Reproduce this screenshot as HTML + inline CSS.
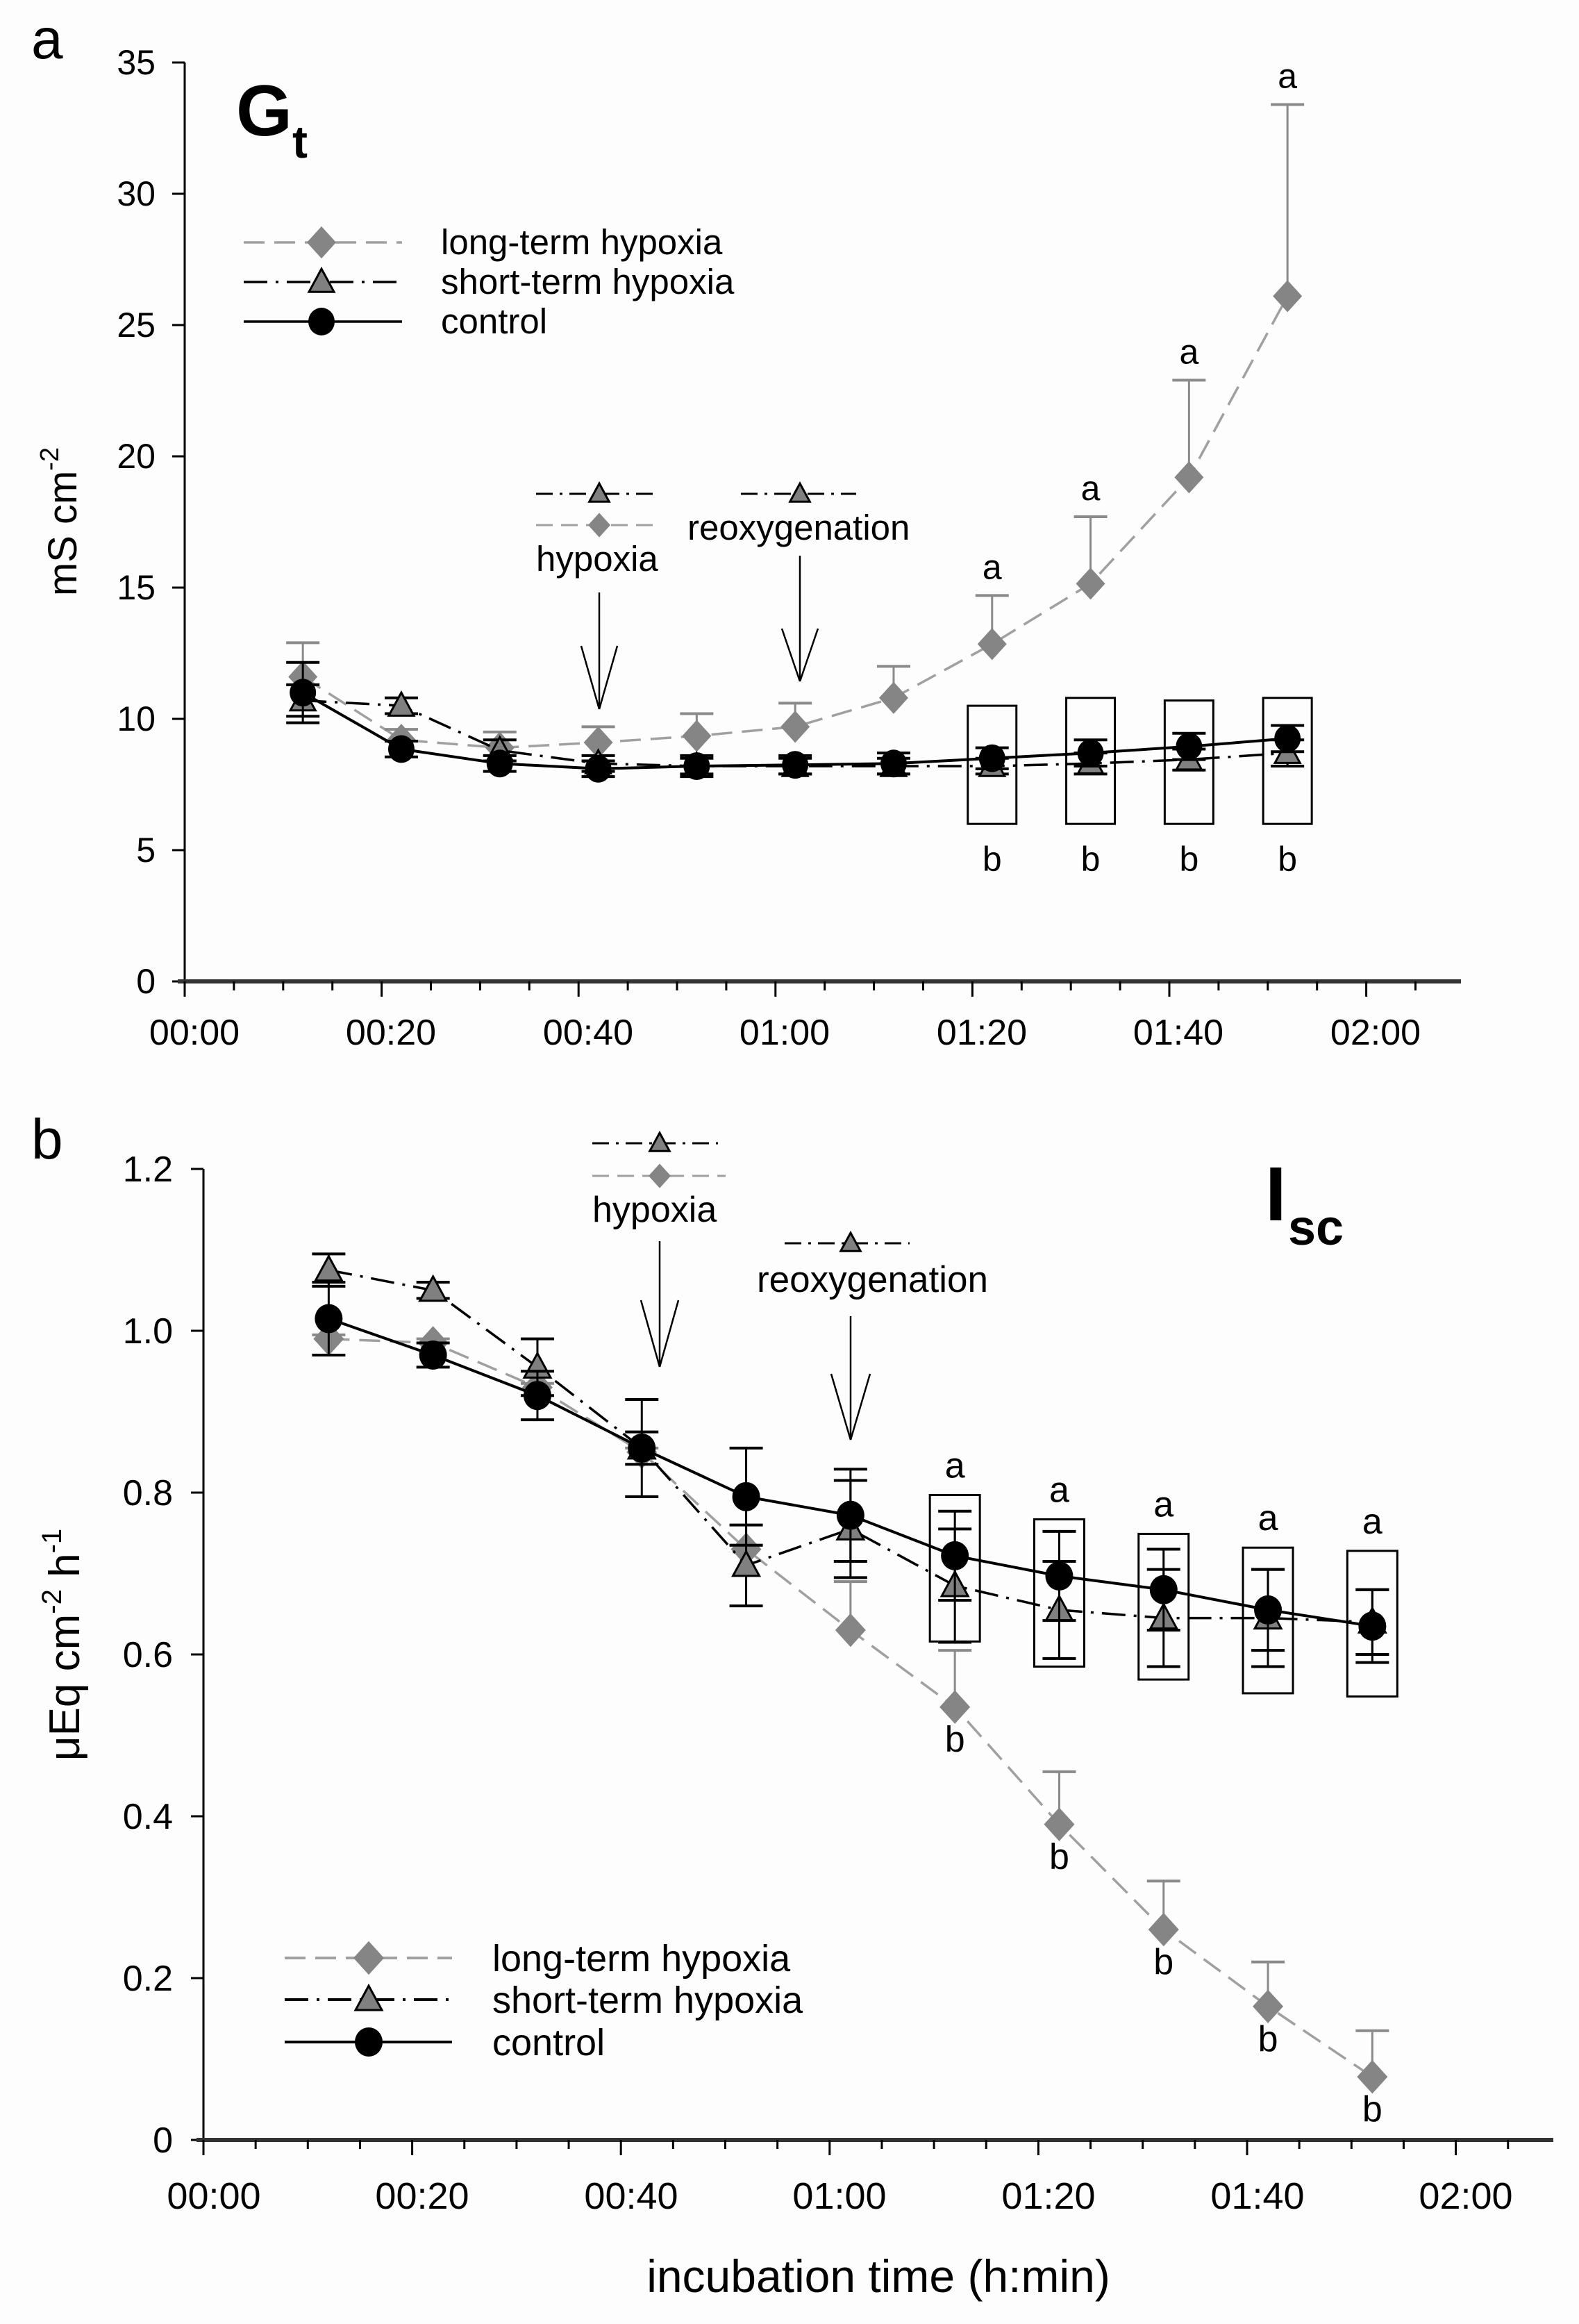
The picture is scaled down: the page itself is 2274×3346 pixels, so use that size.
<!DOCTYPE html>
<html><head><meta charset="utf-8"><style>
html,body{margin:0;padding:0;background:#fdfdfd;}
svg{display:block;font-family:"Liberation Sans",Arial,sans-serif;}
</style></head><body>
<svg id="s" width="2274" height="3346" viewBox="0 0 2274 3346" xmlns="http://www.w3.org/2000/svg">
<rect width="2274" height="3346" fill="#fdfdfd"/>
<!-- Panel a static text -->
<text x="45" y="84" font-size="82">a</text>
<text x="340" y="195" font-size="104" font-weight="bold">G</text>
<text x="421" y="227" font-size="66" font-weight="bold">t</text>
<text transform="translate(110,751) rotate(-90)" font-size="58" text-anchor="middle">mS cm<tspan font-size="38" dy="-26">-2</tspan></text>
<g font-size="50" text-anchor="end">
<text x="224" y="107">35</text><text x="224" y="296">30</text><text x="224" y="485">25</text>
<text x="224" y="674">20</text><text x="224" y="863">15</text><text x="224" y="1052">10</text>
<text x="224" y="1241">5</text><text x="224" y="1430">0</text>
</g>
<g font-size="52" text-anchor="middle">
<text x="280" y="1504">00:00</text><text x="563" y="1504">00:20</text><text x="847" y="1504">00:40</text>
<text x="1130" y="1504">01:00</text><text x="1414" y="1504">01:20</text><text x="1697" y="1504">01:40</text><text x="1981" y="1504">02:00</text>
</g>
<g font-size="51">
<text x="635" y="366">long-term hypoxia</text>
<text x="635" y="423">short-term hypoxia</text>
<text x="635" y="480">control</text>
<text x="772" y="822">hypoxia</text>
<text x="990" y="777">reoxygenation</text>
</g>
<!-- Panel b static text -->
<text x="45" y="1668" font-size="82">b</text>
<text x="1822" y="1757" font-size="110" font-weight="bold">I</text>
<text x="1855" y="1792" font-size="72" font-weight="bold">sc</text>
<text transform="translate(114,2368) rotate(-90)" font-size="62" text-anchor="middle">μEq cm<tspan font-size="40" dy="-26">-2</tspan><tspan dy="26"> h</tspan><tspan font-size="40" dy="-26">-1</tspan></text>
<g font-size="52" text-anchor="end">
<text x="249" y="3099">0</text><text x="249" y="2866">0.2</text><text x="249" y="2633">0.4</text>
<text x="249" y="2400">0.6</text><text x="249" y="2167">0.8</text><text x="249" y="1934">1.0</text><text x="249" y="1701">1.2</text>
</g>
<g font-size="54" text-anchor="middle">
<text x="308" y="3180">00:00</text><text x="608" y="3180">00:20</text><text x="909" y="3180">00:40</text>
<text x="1209" y="3180">01:00</text><text x="1510" y="3180">01:20</text><text x="1811" y="3180">01:40</text><text x="2111" y="3180">02:00</text>
<text x="1265" y="3300" font-size="66">incubation time (h:min)</text>
</g>
<g font-size="54">
<text x="709" y="2838">long-term hypoxia</text>
<text x="709" y="2898">short-term hypoxia</text>
<text x="709" y="2959">control</text>
<text x="853" y="1759" font-size="52">hypoxia</text>
<text x="1090" y="1860" font-size="53">reoxygenation</text>
</g>
<g id="dyn"></g>
</svg>
<script>
var o='';
function L(x1,y1,x2,y2,c,w,d){o+='<line x1="'+x1+'" y1="'+y1+'" x2="'+x2+'" y2="'+y2+'" stroke="'+c+'" stroke-width="'+w+'"'+(d?' stroke-dasharray="'+d+'"':'')+'/>';}
function P(pts,c,w,d){o+='<polyline fill="none" points="'+pts.map(function(p){return p[0].toFixed(1)+','+p[1].toFixed(1)}).join(' ')+'" stroke="'+c+'" stroke-width="'+w+'"'+(d?' stroke-dasharray="'+d+'"':'')+' stroke-linejoin="round"/>';}
function dia(x,y,s){o+='<polygon points="'+x+','+(y-s*1.1)+' '+(x+s)+','+y+' '+x+','+(y+s*1.1)+' '+(x-s)+','+y+'" fill="#858585"/>';}
function tri(x,y,s){o+='<polygon points="'+x+','+(y-s)+' '+(x+s*0.95)+','+(y+s*0.75)+' '+(x-s*0.95)+','+(y+s*0.75)+'" fill="#808080" stroke="#000" stroke-width="3"/>';}
function cir(x,y,r){o+='<ellipse cx="'+x+'" cy="'+y+'" rx="'+r+'" ry="'+(r*1.05)+'" fill="#000"/>';}
function T(x,y,t,fs){o+='<text x="'+x+'" y="'+y+'" font-size="'+fs+'" text-anchor="middle">'+t+'</text>';}
var DL='30 14', DD='34 12 4 12';
var times=[12,22,32,42,52,62,72,82,92,102,112];

function panel(X,Y,ax,LT,LTu,ST,STe,C,Ce,s){
  L(ax.x0,ax.ytop,ax.x0,ax.y0,'#000',3);
  ax.yt.forEach(function(v){L(ax.x0-18,Y(v),ax.x0,Y(v),'#000',3);});
  L(ax.x0-10,ax.y0,ax.xend,ax.y0,'#333',6);
  for(var m=0;m<=ax.mmax;m+=5){L(X(m),ax.y0,X(m),ax.y0+(m%20==0?22:13),'#000',3);}
  var pl=times.map(function(t,i){return [X(t),Y(LT[i])]});
  P(pl,'#a0a0a0',3.5,DL);
  times.forEach(function(t,i){L(X(t),Y(LT[i]),X(t),Y(LTu[i]),'#8a8a8a',3);L(X(t)-24,Y(LTu[i]),X(t)+24,Y(LTu[i]),'#8a8a8a',4);});
  times.forEach(function(t,i){dia(X(t),Y(LT[i]),s.d);});
  P(times.map(function(t,i){return [X(t),Y(ST[i])]}),'#000',3.5,DD);
  times.forEach(function(t,i){var x=X(t);L(x,Y(ST[i]-STe[i]),x,Y(ST[i]+STe[i]),'#000',3);L(x-24,Y(ST[i]+STe[i]),x+24,Y(ST[i]+STe[i]),'#000',4);L(x-24,Y(ST[i]-STe[i]),x+24,Y(ST[i]-STe[i]),'#000',4);});
  times.forEach(function(t,i){tri(X(t),Y(ST[i]),s.t);});
  P(times.map(function(t,i){return [X(t),Y(C[i])]}),'#000',4);
  times.forEach(function(t,i){var x=X(t);L(x,Y(C[i]-Ce[i]),x,Y(C[i]+Ce[i]),'#000',3);L(x-24,Y(C[i]+Ce[i]),x+24,Y(C[i]+Ce[i]),'#000',4);L(x-24,Y(C[i]-Ce[i]),x+24,Y(C[i]-Ce[i]),'#000',4);});
  times.forEach(function(t,i){cir(X(t),Y(C[i]),s.c);});
}
var Xa=function(t){return 266+14.18*t}, Ya=function(v){return 1413-37.8*v};
panel(Xa,Ya,{x0:266,ytop:90,y0:1413,xend:2104,mmax:125,yt:[0,5,10,15,20,25,30,35]},
 [11.6,9.2,8.9,9.1,9.35,9.7,10.8,12.85,15.15,19.2,26.1],
 [12.9,9.6,9.5,9.7,10.2,10.6,12.0,14.7,17.7,22.9,33.4],
 [10.7,10.5,8.8,8.3,8.2,8.2,8.2,8.2,8.3,8.45,8.7],
 [0.6,0.3,0.4,0.3,0.3,0.3,0.3,0.3,0.4,0.4,0.5],
 [11.0,8.85,8.3,8.1,8.2,8.25,8.3,8.5,8.7,8.95,9.25],
 [1.15,0.3,0.3,0.3,0.4,0.35,0.4,0.4,0.5,0.5,0.5],{d:21,t:19,c:19});
[[82,10.5],[92,10.8],[102,10.7],[112,10.8]].forEach(function(b){var x=Xa(b[0]);o+='<rect x="'+(x-35)+'" y="'+Ya(b[1])+'" width="70" height="'+(Ya(6.0)-Ya(b[1]))+'" fill="none" stroke="#000" stroke-width="3"/>';T(x,1254,'b',50);});
[[82,14.7],[92,17.7],[102,22.9],[112,33.4]].forEach(function(b){T(Xa(b[0]),Ya(b[1])-24,'a',50);});
L(351,349,579,349,'#a0a0a0',3.5,DL);dia(463,349,21);
L(351,406,579,406,'#000',3.5,DD);tri(463,406,19);
L(351,463,579,463,'#000',3.5);cir(463,463,19);
L(772,711,940,711,'#000',3,'24 10 4 10');tri(863,711,15);
L(772,756,940,756,'#a0a0a0',3,'24 12');dia(863,756,16);
L(863,853,863,1021,'#000',2.5);L(837,930,863,1021,'#000',2.5);L(889,930,863,1021,'#000',2.5);
L(1067,711,1233,711,'#000',3,'24 10 4 10');tri(1152,711,15);
L(1152,800,1152,981,'#000',2.5);L(1126,905,1152,981,'#000',2.5);L(1178,905,1152,981,'#000',2.5);
var Xb=function(t){return 293+15.03*t}, Yb=function(v){return 3081-1165*v};
panel(Xb,Yb,{x0:293,ytop:1683,y0:3081,xend:2237,mmax:125,yt:[0,0.2,0.4,0.6,0.8,1.0,1.2]},
 [0.99,0.985,0.93,0.85,0.73,0.63,0.535,0.39,0.26,0.165,0.078],
 [0.995,0.99,0.935,0.855,0.735,0.69,0.605,0.455,0.32,0.22,0.135],
 [1.075,1.05,0.955,0.855,0.71,0.755,0.685,0.655,0.645,0.645,0.64],
 [0.02,0.01,0.035,0.02,0.05,0.06,0.07,0.06,0.06,0.06,0.04],
 [1.015,0.97,0.92,0.855,0.795,0.772,0.722,0.697,0.68,0.655,0.635],
 [0.045,0.015,0.03,0.06,0.06,0.057,0.055,0.055,0.05,0.05,0.045],{d:22,t:20,c:20});
[[72,0.797,0.616],[82,0.767,0.585],[92,0.749,0.569],[102,0.732,0.552],[112,0.728,0.548]].forEach(function(b){var x=Xb(b[0]);o+='<rect x="'+(x-36)+'" y="'+Yb(b[1])+'" width="72" height="'+(Yb(b[2])-Yb(b[1]))+'" fill="none" stroke="#000" stroke-width="3"/>';T(x,Yb(b[1])-25,'a',52);});
[[72,0.535],[82,0.39],[92,0.26],[102,0.165],[112,0.078]].forEach(function(b){T(Xb(b[0]),Yb(b[1])+64,'b',52);});
L(410,2819,651,2819,'#a0a0a0',4,DL);dia(531,2819,22);
L(410,2879,651,2879,'#000',4,DD);tri(531,2879,20);
L(410,2940,651,2940,'#000',4);cir(531,2940,20);
L(853,1646,1034,1646,'#000',3,'24 10 4 10');tri(950,1646,15);
L(853,1693,1045,1693,'#a0a0a0',3,'24 12');dia(950,1693,16);
L(950,1787,950,1968,'#000',2.5);L(923,1872,950,1968,'#000',2.5);L(977,1872,950,1968,'#000',2.5);
L(1130,1790,1310,1790,'#000',3,'24 10 4 10');tri(1225,1790,15);
L(1225,1895,1225,2073,'#000',2.5);L(1197,1978,1225,2073,'#000',2.5);L(1253,1978,1225,2073,'#000',2.5);
document.getElementById('dyn').innerHTML=o;
</script>
</body></html>
